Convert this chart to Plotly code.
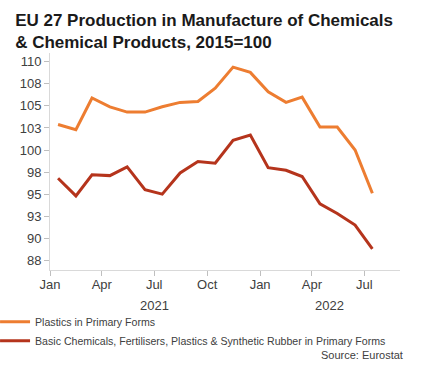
import plotly.graph_objects as go

months = ["2021-01-15", "2021-02-15", "2021-03-15", "2021-04-15", "2021-05-15", "2021-06-15",
          "2021-07-15", "2021-08-15", "2021-09-15", "2021-10-15", "2021-11-15", "2021-12-15",
          "2022-01-15", "2022-02-15", "2022-03-15", "2022-04-15", "2022-05-15", "2022-06-15",
          "2022-07-15"]
plastics = [102.9, 102.3, 105.9, 104.9, 104.3, 104.3, 104.9, 105.4, 105.5, 107.0, 109.4, 108.8,
            106.6, 105.4, 106.0, 102.6, 102.6, 100.0, 95.1]
basic = [96.8, 94.8, 97.2, 97.1, 98.1, 95.5, 95.0, 97.4, 98.7, 98.5, 101.1, 101.7,
         98.0, 97.7, 97.0, 93.9, 92.8, 91.5, 88.8]

x_tickvals = ["2021-01-01", "2021-04-01", "2021-07-01", "2021-10-01",
              "2022-01-01", "2022-04-01", "2022-07-01"]
x_ticktext = ["Jan", "Apr", "Jul", "Oct", "Jan", "Apr", "Jul"]
y_tickvals = [87.5, 90, 92.5, 95, 97.5, 100, 102.5, 105, 107.5, 110]
y_ticktext = ["88", "90", "93", "95", "98", "100", "103", "105", "108", "110"]
years = ["2021", "2022"]
year_pos = ["2021-07-01", "2022-05-01"]

ORANGE = "#ED7D31"
RED = "#B5341C"
FONT = "Liberation Sans, Arial"

fig = go.Figure()
fig.add_trace(go.Scatter(x=months, y=plastics, mode="lines", name="Plastics in Primary Forms",
                         line=dict(color=ORANGE, width=3)))
fig.add_trace(go.Scatter(x=months, y=basic, mode="lines",
                         name="Basic Chemicals, Fertilisers, Plastics & Synthetic Rubber in Primary Forms",
                         line=dict(color=RED, width=3)))

for yr, pos in zip(years, year_pos):
    fig.add_annotation(x=pos, y=0, xref="x", yref="paper", yshift=-26, text=yr,
                       showarrow=False, yanchor="top",
                       font=dict(family=FONT, size=13, color="#404040"))

fig.add_annotation(x=1, y=0, xref="paper", yref="paper", yshift=-77, xshift=5, xanchor="right",
                   yanchor="top", text="Source: Eurostat", showarrow=False,
                   font=dict(family=FONT, size=11, color="#404040"))

fig.update_layout(
    width=421, height=367,
    margin=dict(l=50, r=21, t=53, b=97, autoexpand=False),
    paper_bgcolor="white", plot_bgcolor="white",
    font=dict(family=FONT, color="#404040"),
    title=dict(text="<b>EU 27 Production in Manufacture of Chemicals<br>& Chemical Products, 2015=100</b>",
               x=0.036, xanchor="left", yref="container", y=1 - 26 / 367, yanchor="middle",
               font=dict(family=FONT, size=17, color="#1a1a1a")),
    showlegend=True,
    legend=dict(x=-0.157, xanchor="left", y=-0.172, yanchor="top", yref="paper",
                orientation="v", font=dict(family=FONT, size=10.6, color="#404040"),
                bgcolor="rgba(0,0,0,0)", tracegroupgap=0),
    xaxis=dict(type="date", range=["2021-01-01", "2022-09-01"], tickmode="array",
               tickvals=x_tickvals, ticktext=x_ticktext, ticks="outside", ticklen=5,
               tickcolor="#bfbfbf", showline=True, linecolor="#d9d9d9", linewidth=1,
               showgrid=False, zeroline=False, tickfont=dict(size=13, color="#404040"),
               ticklabelstandoff=-3),
    yaxis=dict(range=[86.4, 111], tickmode="array", tickvals=y_tickvals, ticktext=y_ticktext,
               ticks="outside", ticklen=5, tickcolor="#bfbfbf", showline=True,
               linecolor="#d9d9d9", linewidth=1, showgrid=False, zeroline=False,
               tickfont=dict(size=13, color="#404040")),
)

fig.write_html("out.html", config={"displayModeBar": False},
               post_script="document.body.style.margin='0';")
